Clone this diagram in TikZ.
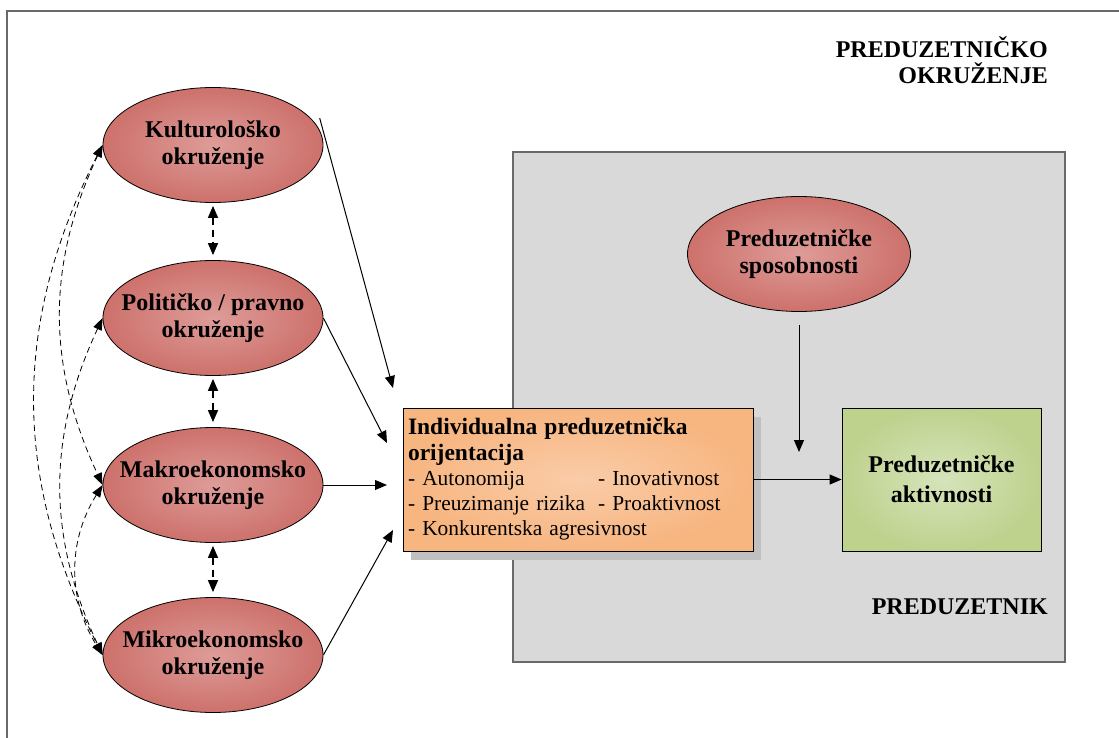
\documentclass[tikz,border=0pt]{standalone}
\usepackage{fontspec}
\setmainfont{Liberation Serif}
\usetikzlibrary{shapes.geometric,arrows.meta,shadows}
\setlength{\parindent}{0pt}

\definecolor{rose}{RGB}{205,113,108}
\definecolor{lrose}{RGB}{222,156,152}
\definecolor{orng}{RGB}{247,181,128}
\definecolor{lorng}{RGB}{250,204,168}
\definecolor{grn}{RGB}{190,210,142}
\definecolor{lgrn}{RGB}{214,228,186}
\definecolor{lgry}{RGB}{217,217,217}
\definecolor{sgry}{RGB}{192,192,192}
\definecolor{fgry}{RGB}{105,105,105}

\tikzstyle{model}=[
    x=1pt, y=1pt,
    frame/.style={fgry, line width=1.6pt},
    zone/.style={rectangle, draw=fgry, line width=1.2pt, fill=lgry},
    env/.style={ellipse, draw=black, thick, inner color=lrose, outer color=rose,
        minimum width=220pt, minimum height=115pt, inner sep=-30pt, align=center,
        font={\fontsize{24}{27}\selectfont\bfseries}},
    ipo box/.style={rectangle, draw=black, thick, inner color=lorng, outer color=orng,
        text width=340pt, inner xsep=5pt, minimum height=143pt, align=left,
        drop shadow={shadow xshift=8pt, shadow yshift=-9pt, fill=sgry, opacity=1},
        font={\fontsize{21.4}{25}\selectfont}},
    akt box/.style={rectangle, draw=black, thick, inner color=lgrn, outer color=grn,
        minimum width=199pt, minimum height=143pt, align=center,
        font={\fontsize{24}{30}\selectfont\bfseries}},
    title/.style={align=right, inner sep=0pt, font={\fontsize{24}{26}\selectfont\bfseries}},
    arr/.style={-{Triangle[length=12pt,width=10pt]}, line width=1pt},
    vlink/.style={{Triangle[length=12pt,width=10pt]}-{Triangle[length=12pt,width=10pt]},
        line width=1.4pt, dash pattern=on 7pt off 5pt},
    link/.style={{Triangle[length=12pt,width=9pt]}-{Triangle[length=12pt,width=9pt]},
        line width=0.8pt, dash pattern=on 6pt off 4pt},
]

\begin{document}
\begin{tikzpicture}[model]
    \useasboundingbox (0,0) rectangle (1119,-738);
    \draw[frame] (7,-760) -- (7,-11) -- (1140,-11);

    \node[zone, minimum width=552pt, minimum height=510pt] (firm) at (789,-407) {};

    \node[title, anchor=north east] (envtitle) at (1048,-36) {PREDUZETNIČKO\\OKRUŽENJE};
    \node[title, anchor=north east] (firmtitle) at (1048,-599) {PREDUZETNIK};

    \node[env] (kult) at (213,-145) {Kulturološko\\okruženje};
    \node[env] (pol) at (213,-318) {Političko / pravno\\okruženje};
    \node[env] (makro) at (213,-485) {Makroekonomsko\\okruženje};
    \node[env] (mikro) at (213,-655) {Mikroekonomsko\\okruženje};
    \node[env, minimum width=223pt] (spos) at (799,-254) {Preduzetničke\\sposobnosti};

    \node[ipo box] (ipo) at (578,-479.5) {%
        {\fontsize{23.5}{26}\selectfont\bfseries Individualna preduzetnička\\orijentacija\par}
        \makebox[190pt][l]{- Autonomija}- Inovativnost\\
        \makebox[190pt][l]{- Preuzimanje rizika}- Proaktivnost\\
        - Konkurentska agresivnost\par};
    \node[akt box] (akt) at (941.5,-479.5) {Preduzetničke\\aktivnosti};

    \coordinate (in1) at (393,-388);
    \coordinate (in2) at (387,-443);
    \coordinate (in3) at (387,-485);
    \coordinate (in4) at (393,-530);
    \coordinate (in5) at (799,-452);

    \draw[arr] ([xshift=7pt,yshift=2pt]kult.14) -- (in1);
    \draw[arr] (pol.east) -- (in2);
    \draw[arr] (makro.east) -- (in3);
    \draw[arr] (mikro.east) -- (in4);
    \draw[arr] ([yshift=-13pt]spos.south) -- (in5);
    \draw[arr] (ipo) -- (akt);

    \draw[vlink, shorten <=3pt, shorten >=5pt] (kult.south) -- (pol.north);
    \draw[vlink, shorten <=3pt, shorten >=5pt] (pol.south) -- (makro.north);
    \draw[vlink, shorten <=3pt, shorten >=5pt] (makro.south) -- (mikro.north);

    \draw[link] (kult.west) to[out=245, in=115] (makro.west);
    \draw[link] (kult.west) to[out=243, in=117] (mikro.west);
    \draw[link] (pol.west) to[out=245, in=115] (mikro.west);
    \draw[link] (makro.west) to[out=238, in=122] (mikro.west);
\end{tikzpicture}
\end{document}
